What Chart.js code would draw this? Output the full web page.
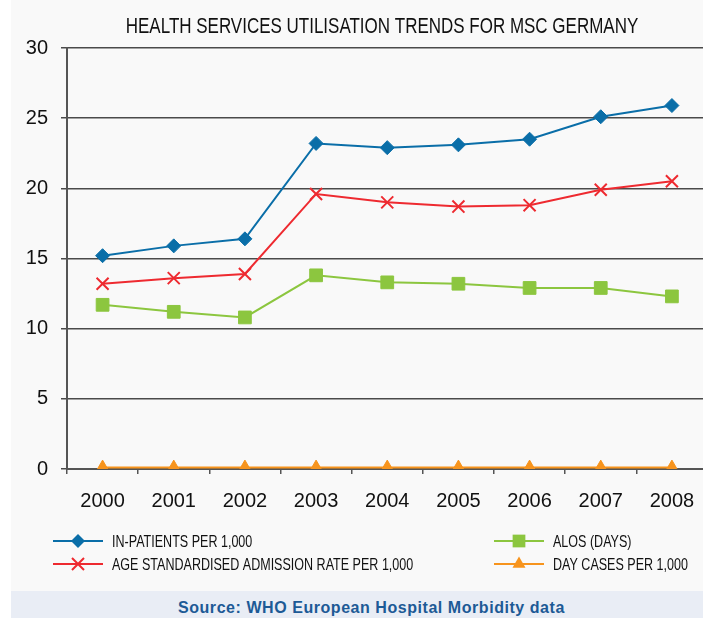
<!DOCTYPE html>
<html>
<head>
<meta charset="utf-8">
<script src="https://cdn.jsdelivr.net/npm/chart.js@4.4.1/dist/chart.umd.min.js"></script>
<style>
  html, body { margin: 0; padding: 0; background: #fff; overflow: hidden; width: 703px; height: 618px; }
  #panel { position: absolute; left: 11px; top: 0; width: 692px; height: 591px; background: #f9f9f9; }
  #myChart { position: absolute; left: 0; top: 0; }
  #source {
    position: absolute; left: 11px; top: 591px; width: 692px; height: 27px; overflow: hidden;
    background: #e9edf5; color: #1d5a96;
    font: bold 16px "Liberation Sans", Arial, sans-serif;
    line-height: 34px; padding-left: 167px; box-sizing: border-box; letter-spacing: 0.55px;
  }
</style>
</head>
<body>
<div id="panel"></div>
<canvas id="myChart" width="718" height="591"></canvas>
<div id="source">Source: WHO European Hospital Morbidity data</div>
<script>
let years = ["2000", "2001", "2002", "2003", "2004", "2005", "2006", "2007", "2008"];
let inPatients = [15.2, 15.9, 16.4, 23.2, 22.9, 23.1, 23.5, 25.1, 25.9];
let admissionRate = [13.2, 13.6, 13.9, 19.6, 19.0, 18.7, 18.8, 19.9, 20.5];
let alos = [11.7, 11.2, 10.8, 13.8, 13.3, 13.2, 12.9, 12.9, 12.3];
let dayCases = [0.1, 0.1, 0.1, 0.1, 0.1, 0.1, 0.1, 0.1, 0.1];
let yMin = 0, yMax = 30, yStep = 5;

let sans = '"Liberation Sans", Arial, sans-serif';

// draws one marker the way the datasets do
function marker(ctx, ds, x, y) {
  let r = ds.pointRadius;
  ctx.save();
  ctx.fillStyle = ds.pointBackgroundColor;
  ctx.strokeStyle = ds.pointBorderColor;
  ctx.lineWidth = ds.pointBorderWidth;
  ctx.beginPath();
  if (ds.pointStyle == "rectRot") {
    ctx.moveTo(x, y - r); ctx.lineTo(x + r, y); ctx.lineTo(x, y + r); ctx.lineTo(x - r, y);
    ctx.closePath(); ctx.fill();
  } else if (ds.pointStyle == "rect") {
    let s = r * Math.SQRT1_2;
    ctx.rect(x - s, y - s, 2 * s, 2 * s); ctx.fill();
  } else if (ds.pointStyle == "triangle") {
    ctx.moveTo(x, y - r);
    ctx.lineTo(x + r * 0.866, y + r / 2);
    ctx.lineTo(x - r * 0.866, y + r / 2);
    ctx.closePath(); ctx.fill();
  } else {
    let s = r * Math.SQRT1_2;
    ctx.moveTo(x - s, y - s); ctx.lineTo(x + s, y + s);
    ctx.moveTo(x + s, y - s); ctx.lineTo(x - s, y + s);
    ctx.stroke();
  }
  ctx.restore();
}

// condensed text: the original uses a narrow Helvetica
function narrowText(ctx, text, x, y, align, k) {
  ctx.save();
  ctx.translate(x, y);
  ctx.scale(k, 1);
  ctx.textAlign = align;
  ctx.fillText(text, 0, 0);
  ctx.restore();
}

const titleAndLegend = {
  id: "titleAndLegend",
  afterDraw(chart) {
    let ctx = chart.ctx;
    ctx.save();
    ctx.fillStyle = "#111";
    ctx.textBaseline = "middle";
    ctx.font = "21.5px " + sans;
    narrowText(ctx, "HEALTH SERVICES UTILISATION TRENDS FOR MSC GERMANY", 382, 27, "center", 0.79);

    // legend: two columns
    let spots = [[53, 541], [53, 564], [494, 541], [494, 564]];
    chart.data.datasets.forEach((ds, i) => {
      let [x, y] = spots[i];
      ctx.strokeStyle = ds.borderColor;
      ctx.lineWidth = 2;
      ctx.beginPath();
      ctx.moveTo(x, y); ctx.lineTo(x + 50, y);
      ctx.stroke();
      marker(ctx, ds, x + 25, y);
      ctx.fillStyle = "#111";
      ctx.font = "16.5px " + sans;
      narrowText(ctx, ds.label, x + 59, y + 1, "left", 0.76);
    });
    ctx.restore();
  }
};

function series(label, data, color, style, radius) {
  return {
    label: label,
    data: data,
    borderColor: color,
    backgroundColor: color,
    borderWidth: 2,
    pointStyle: style,
    pointRadius: radius,
    pointHoverRadius: radius,
    pointBackgroundColor: color,
    pointBorderColor: color,
    pointBorderWidth: style == "crossRot" ? 2 : 1,
    tension: 0
  };
}

new Chart("myChart", {
  type: "line",
  data: {
    labels: years,
    datasets: [
      series("IN-PATIENTS PER 1,000", inPatients, "#0a6ea8", "rectRot", 7),
      series("AGE STANDARDISED ADMISSION RATE PER 1,000", admissionRate, "#ee2a30", "crossRot", 8.5),
      series("ALOS (DAYS)", alos, "#8cc63f", "rect", 9),
      series("DAY CASES PER 1,000", dayCases, "#f7941d", "triangle", 7.5)
    ]
  },
  options: {
    responsive: false,
    animation: false,
    events: [],
    layout: { padding: { left: 0, right: 5, top: 48, bottom: 0 } },
    plugins: { legend: { display: false }, title: { display: false }, tooltip: { enabled: false } },
    scales: {
      x: {
        offset: true,
        grid: { offset: true, drawOnChartArea: false, drawTicks: true, tickLength: 5, color: "#555", lineWidth: 1.5 },
        border: { display: true, color: "#555", width: 2 },
        ticks: { color: "#111", font: { family: sans, size: 20 }, padding: 15, maxRotation: 0 },
        afterFit: s => { s.height = 122; }
      },
      y: {
        min: yMin, max: yMax,
        ticks: { stepSize: yStep, color: "#111", font: { family: sans, size: 20 }, padding: 13 },
        grid: { color: "#4a4a4a", lineWidth: 1.5, tickLength: 6 },
        border: { display: true, color: "#555", width: 2 },
        afterFit: s => { s.width = 67; }
      }
    }
  },
  plugins: [titleAndLegend]
});
</script>
</body>
</html>
